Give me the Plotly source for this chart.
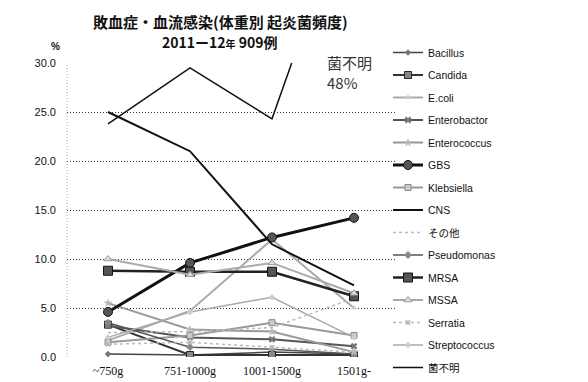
import plotly.graph_objects as go

# 出生体重区分
categories = ["~750g", "751-1000g", "1001-1500g", "1501g-"]

# 起炎菌別の頻度 (%)
bacillus      = [0.3, 0.2, 0.5, 0.3]
candida       = [3.3, 0.2, 0.2, 0.2]
ecoli         = [1.7, 4.7, 12.0, 5.0]
enterobactor  = [3.2, 2.0, 1.8, 1.1]
enterococcus  = [5.5, 2.8, 2.6, 0.5]
gbs           = [4.6, 9.6, 12.2, 14.2]
klebsiella    = [1.5, 2.2, 3.5, 2.2]
cns           = [25.0, 21.0, 11.5, 7.3]
others        = [2.5, 2.6, 3.0, 6.0]
pseudomonas   = [3.5, 1.0, 0.8, 0.3]
mrsa          = [8.8, 8.7, 8.7, 6.2]
mssa          = [10.0, 8.4, 9.6, 6.5]
serratia      = [1.3, 1.5, 1.0, 0.5]
streptococcus = [2.0, 4.6, 6.1, 2.0]
unknown       = [23.8, 29.5, 24.3, 48.0]

unknown_label = "菌不明<br>48%"

y_ticks = [0, 5, 10, 15, 20, 25, 30]

series = [
    ("Bacillus",      bacillus,      dict(color="#444", width=1.5), dict(symbol="diamond", size=5, color="#777")),
    ("Candida",       candida,       dict(color="#333", width=2),   dict(symbol="square", size=7, color="#888", line=dict(color="#222", width=1))),
    ("E.coli",        ecoli,         dict(color="#aaa", width=2),   dict(symbol="triangle-up", size=6, color="#ccc")),
    ("Enterobactor",  enterobactor,  dict(color="#555", width=2),   dict(symbol="x", size=6, color="#777")),
    ("Enterococcus",  enterococcus,  dict(color="#999", width=2),   dict(symbol="star", size=7, color="#bbb")),
    ("GBS",           gbs,           dict(color="#111", width=3),   dict(symbol="circle", size=9, color="#555", line=dict(color="#111", width=1))),
    ("Klebsiella",    klebsiella,    dict(color="#999", width=2),   dict(symbol="square", size=6, color="#ccc", line=dict(color="#888", width=1))),
    ("CNS",           cns,           dict(color="#111", width=2),   None),
    ("その他",         others,        dict(color="#bbb", width=1.5, dash="dot"), None),
    ("Pseudomonas",   pseudomonas,   dict(color="#555", width=1.5), dict(symbol="diamond", size=6, color="#888")),
    ("MRSA",          mrsa,          dict(color="#222", width=2.5), dict(symbol="square", size=9, color="#555", line=dict(color="#111", width=1))),
    ("MSSA",          mssa,          dict(color="#aaa", width=2),   dict(symbol="triangle-up", size=7, color="#ddd", line=dict(color="#999", width=1))),
    ("Serratia",      serratia,      dict(color="#bbb", width=1.5, dash="dot"), dict(symbol="x", size=5, color="#bbb")),
    ("Streptococcus", streptococcus, dict(color="#aaa", width=1.5), dict(symbol="diamond", size=5, color="#ccc")),
    ("菌不明",         unknown,       dict(color="#111", width=1.5), None),
]

fig = go.Figure()
for name, values, line, marker in series:
    fig.add_trace(go.Scatter(
        x=categories, y=values, name=name, legendgroup=name,
        mode="lines+markers" if marker else "lines",
        line=line, marker=marker if marker else None,
        cliponaxis=True,
    ))

font_jp = "Noto Sans CJK JP"

fig.update_layout(
    width=588, height=382,
    margin=dict(l=67, r=193, t=63, b=25, autoexpand=False),
    paper_bgcolor="white", plot_bgcolor="white",
    showlegend=True,
    legend=dict(
        x=(388 - 67) / 328, xanchor="left", y=1 + (63 - 38) / 294, yanchor="top",
        tracegroupgap=3.5, itemwidth=30, maxheight=420,
        font=dict(family="Liberation Sans, " + font_jp, size=10.5, color="#111"),
        bgcolor="rgba(0,0,0,0)",
    ),
    xaxis=dict(
        type="category", range=[-0.5, 3.5],
        showgrid=False, showline=False, zeroline=False,
        tickfont=dict(family="Liberation Serif, " + font_jp, size=12, color="#111"),
        ticks="", ticklabelstandoff=5,
    ),
    yaxis=dict(
        range=[0, 30], tickvals=y_ticks, tickformat=".1f",
        showgrid=True, griddash="1px,2px", gridcolor="#333", gridwidth=1,
        zeroline=False, showline=False, ticks="",
        tickfont=dict(family="Liberation Sans", size=11, color="#111"),
        ticklabelstandoff=10,
    ),
    shapes=[
        dict(type="line", xref="paper", yref="paper", x0=0, x1=0, y0=0, y1=1,
             line=dict(color="#aaa", width=1, dash="1px,2px")),
    ],
    annotations=[
        dict(text="<b>敗血症・血流感染(体重別 起炎菌頻度)</b>", xref="paper", yref="paper",
             x=(220 - 67) / 328, y=1 + (63 - 21) / 294,
             xanchor="center", yanchor="middle", showarrow=False,
             font=dict(family=font_jp, size=15, color="#111")),
        dict(text="<b>2011ー12<span style='font-size:10px'>年</span> 909例</b>", xref="paper", yref="paper",
             x=(220 - 67) / 328, y=1 + (63 - 42) / 294,
             xanchor="center", yanchor="middle", showarrow=False,
             font=dict(family=font_jp, size=14, color="#111")),
        dict(text="<b>%</b>", xref="paper", yref="paper",
             x=(55 - 67) / 328, y=1 + (63 - 47) / 294,
             xanchor="center", yanchor="middle", showarrow=False,
             font=dict(family="Liberation Sans", size=10, color="#111")),
        dict(text=unknown_label, xref="paper", yref="paper",
             x=(325 - 67) / 328, y=1 + (63 - 50) / 294,
             xanchor="left", yanchor="top", align="left", showarrow=False,
             font=dict(family=font_jp, size=15, color="#333")),
    ],
)

fig.write_html("out.html")
